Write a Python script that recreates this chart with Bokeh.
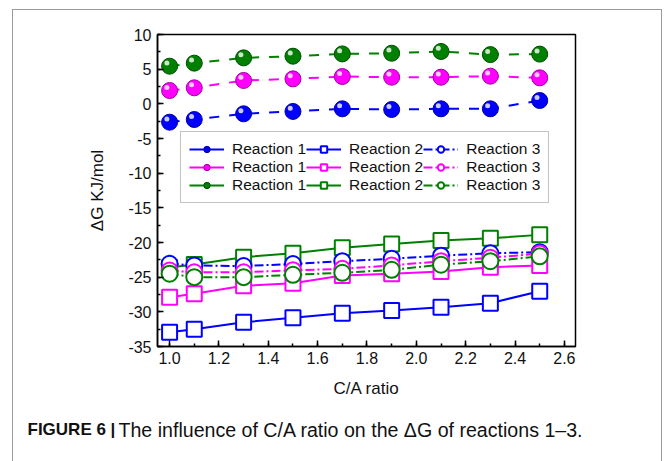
from bokeh.plotting import figure
from bokeh.layouts import column
from bokeh.models import (Range1d, Legend, LegendItem, Label, FixedTicker, ColumnDataSource,
                          PrintfTickFormatter)
from bokeh.transform import dodge
from bokeh.embed import file_html
from bokeh.resources import INLINE

# ---- data ----
ca_ratio = [1.0, 1.1, 1.3, 1.5, 1.7, 1.9, 2.1, 2.3, 2.5]

r1_blue = [-2.65, -2.26, -1.44, -1.10, -0.72, -0.82, -0.72, -0.72, 0.48]
r1_magenta = [1.92, 2.31, 3.37, 3.60, 3.94, 3.84, 3.84, 3.99, 3.75]
r1_green = [5.43, 5.87, 6.63, 6.87, 7.20, 7.30, 7.55, 7.10, 7.17]

r2_blue = [-32.93, -32.50, -31.50, -30.87, -30.20, -29.80, -29.33, -28.75, -27.02]
r2_magenta = [-27.88, -27.40, -26.25, -25.87, -24.76, -24.52, -24.18, -23.56, -23.30]
r2_green = [-23.60, -23.17, -22.12, -21.54, -20.77, -20.20, -19.70, -19.40, -18.90]

r3_blue = [-23.07, -23.30, -23.40, -23.10, -22.70, -22.35, -21.90, -21.55, -21.40]
r3_magenta = [-24.04, -24.30, -24.30, -24.00, -23.80, -23.30, -22.70, -22.20, -21.60]
r3_green = [-24.50, -25.00, -25.00, -24.66, -24.37, -23.94, -23.20, -22.70, -22.00]

x_ticks = [1.0, 1.2, 1.4, 1.6, 1.8, 2.0, 2.2, 2.4, 2.6]
y_ticks = [10, 5, 0, -5, -10, -15, -20, -25, -30, -35]
series_label = ["Reaction 1", "Reaction 2", "Reaction 3"]
caption_bold = "FIGURE 6 |"
caption_text = "The influence of C/A ratio on the \u0394G of reactions 1\u20133."

colors = ["#0000ff", "#ff00ff", "#008000"]
dark = ["#0000a0", "#a000a0", "#004d00"]

FONT = "Liberation Sans"

p = figure(width=648, height=395, output_backend="svg", toolbar_location=None,
           x_range=Range1d(0.951, 2.645), y_range=Range1d(-35, 10),
           min_border_left=144, min_border_top=24, min_border_right=86, min_border_bottom=59,
           frame_align=False)
p.background_fill_color = "white"
p.border_fill_color = "white"
p.grid.visible = False
p.outline_line_color = "black"
p.outline_line_width = 1.5

for ax in (p.xaxis[0], p.yaxis[0]):
    ax.axis_line_width = 1.5
    ax.major_tick_in = 6
    ax.major_tick_out = 0
    ax.minor_tick_in = 3
    ax.minor_tick_out = 0
    ax.major_tick_line_width = 1.5
    ax.minor_tick_line_width = 1.5
    ax.major_label_text_font = FONT
    ax.major_label_text_font_size = "16px"
    ax.major_label_text_color = "#111111"
    ax.axis_label_text_font = FONT
    ax.axis_label_text_font_size = "17px"
    ax.axis_label_text_font_style = "normal"
    ax.axis_label_text_color = "#111111"

p.xaxis.ticker = FixedTicker(ticks=x_ticks, minor_ticks=[round(1.0 + 0.1 * i, 2) for i in range(17)])
p.yaxis.ticker = FixedTicker(ticks=y_ticks, minor_ticks=[-35 + 2.5 * i for i in range(19)])
p.xaxis.formatter = PrintfTickFormatter(format="%.1f")
p.yaxis.formatter = PrintfTickFormatter(format="%d")
p.xaxis.axis_label = "C/A ratio"
p.yaxis.axis_label = "\u0394G KJ/mol"
p.xaxis.major_label_standoff = 5
p.yaxis.major_label_standoff = 6
p.xaxis.axis_label_standoff = 12
p.yaxis.axis_label_standoff = 18

r1 = [r1_blue, r1_magenta, r1_green]
r2 = [r2_blue, r2_magenta, r2_green]
r3 = [r3_blue, r3_magenta, r3_green]

items = {0: [], 1: [], 2: []}

# Reaction 2: squares, solid lines
for i in range(3):
    src = ColumnDataSource(dict(x=ca_ratio, y=r2[i]))
    ln = p.line("x", "y", source=src, line_color=colors[i], line_width=2)
    mk = p.scatter("x", "y", source=src, marker="square", size=15, fill_color="white",
                   line_color=colors[i], line_width=2)
    items[1].append(LegendItem(label=series_label[1], renderers=[ln, mk]))

# Reaction 3: open circles, dash-dot lines
for i in range(3):
    src = ColumnDataSource(dict(x=ca_ratio, y=r3[i]))
    ln = p.line("x", "y", source=src, line_color=colors[i], line_width=2, line_dash="9 3 2 3")
    mk = p.scatter("x", "y", source=src, marker="circle", size=16, fill_color="white",
                   line_color=colors[i], line_width=2)
    items[2].append(LegendItem(label=series_label[2], renderers=[ln, mk]))

# Reaction 1: shaded spheres, dashed lines
for i in range(3):
    src = ColumnDataSource(dict(x=ca_ratio, y=r1[i]))
    ln = p.line("x", "y", source=src, line_color=colors[i], line_width=2, line_dash="10 10")
    # solid line used only for the legend swatch (as in the original legend)
    ln_key = p.line("x", "y", source=src, line_color=colors[i], line_width=2, visible=False)
    mk = p.scatter("x", "y", source=src, marker="circle", size=16, fill_color=colors[i],
                   line_color=dark[i], line_width=1)
    p.scatter(dodge("x", -0.011), dodge("y", 0.45), source=src, marker="circle", size=5,
              fill_color="white", fill_alpha=0.8, line_color=None)
    items[0].append(LegendItem(label=series_label[0], renderers=[ln_key, mk]))

legend = Legend(items=items[0] + items[1] + items[2], location=(23, 143),
                orientation="vertical", nrows=3)
legend.label_text_font = FONT
legend.label_text_font_size = "15.5px"
legend.label_text_color = "#111111"
legend.border_line_color = "#888888"
legend.border_line_width = 1
legend.padding = 8
legend.spacing = 0
legend.margin = 0
legend.glyph_width = 35
legend.glyph_height = 16
legend.label_height = 16
legend.label_standoff = 8
legend.background_fill_alpha = 1
legend.inactive_fill_alpha = 0
p.add_layout(legend)

# caption strip below the chart
cap = figure(width=648, height=57, output_backend="svg", toolbar_location=None,
             x_range=Range1d(0, 1), y_range=Range1d(0, 1),
             x_axis_location=None, y_axis_location=None,
             min_border=0, min_border_left=0, min_border_right=0,
             min_border_top=0, min_border_bottom=0, frame_align=False)
cap.grid.visible = False
cap.outline_line_color = None
cap.background_fill_color = "white"
cap.border_fill_color = "white"
cap.add_layout(Label(x=14, y=33, x_units="screen", y_units="screen", text=caption_bold,
                     text_font=FONT, text_font_size="17px", text_font_style="bold",
                     text_baseline="middle", text_color="#111111"))
cap.add_layout(Label(x=105, y=33, x_units="screen", y_units="screen", text=caption_text,
                     text_font=FONT, text_font_size="19.6px", text_baseline="middle",
                     text_color="#111111"))

layout = column(p, cap, spacing=0, margin=(9, 0, 0, 12),
                styles={"border-left": "1px solid #9a9a9a", "border-top": "1px solid #9a9a9a",
                        "border-right": "1px solid #9a9a9a"})

open("out.html", "w").write(file_html(layout, INLINE))
